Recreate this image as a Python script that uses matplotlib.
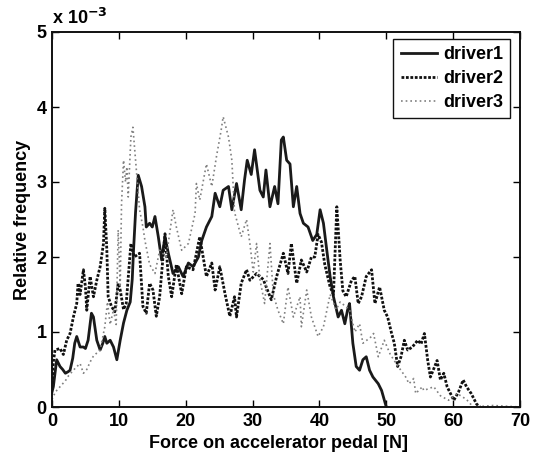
import numpy as np
import matplotlib
matplotlib.use("Agg")
import matplotlib.pyplot as plt
from matplotlib.ticker import FuncFormatter

# Relative frequency of pedal force, in units of 1e-3, sampled along the force axis [N]
d1_force = [0.0, 0.2, 0.7, 1.2, 1.6, 2.0, 2.4, 2.7, 3.1, 3.4, 3.7, 4.2, 4.7, 5.0, 5.4, 5.9,
            6.2, 6.7, 7.2, 7.6, 7.9, 8.2, 8.7, 9.2, 9.7, 10.2, 10.7, 11.2, 11.7, 12.0, 12.2,
            12.5, 12.7, 12.9, 13.4, 13.9, 14.1, 14.6, 15.0, 15.4, 15.9, 16.4, 16.9, 17.4,
            18.1, 18.9, 19.6, 20.4, 21.1, 21.9, 22.4, 23.1, 23.9, 24.4, 25.1, 25.6, 26.4,
            26.9, 27.6, 28.3, 28.8, 29.2, 29.8, 30.3, 31.1, 31.6, 32.0, 32.6, 33.3, 33.8,
            34.3, 34.6, 35.1, 35.6, 36.1, 36.6, 37.1, 37.6, 38.3, 39.0, 39.6, 40.1, 40.6,
            41.1, 41.6, 42.1, 42.8, 43.3, 43.8, 44.2, 44.5, 45.0, 45.5, 46.0, 46.5, 47.0,
            47.5, 48.0, 48.8, 49.3, 50.0]
d1_freq = [0.20, 0.27, 0.63, 0.54, 0.50, 0.45, 0.47, 0.49, 0.65, 0.85, 0.94, 0.80, 0.80, 0.78,
           0.89, 1.25, 1.20, 0.89, 0.76, 0.85, 0.94, 0.85, 0.89, 0.80, 0.63, 0.89, 1.12, 1.29,
           1.40, 1.70, 2.10, 2.60, 2.85, 3.09, 2.94, 2.67, 2.40, 2.45, 2.40, 2.54, 2.27, 1.96,
           2.27, 2.05, 1.78, 1.87, 1.74, 1.92, 1.87, 2.00, 2.22, 2.40, 2.54, 2.85, 2.67, 2.89,
           2.94, 2.63, 2.98, 2.63, 3.03, 3.29, 3.10, 3.43, 2.89, 2.80, 3.16, 2.67, 2.94, 2.71,
           3.56, 3.60, 3.29, 3.24, 2.67, 2.94, 2.58, 2.45, 2.40, 2.22, 2.30, 2.63, 2.45, 2.09,
           1.74, 1.47, 1.20, 1.29, 1.11, 1.29, 1.38, 0.85, 0.54, 0.49, 0.63, 0.67, 0.49, 0.40,
           0.31, 0.22, 0.00]

d2_force = [0.0, 0.2, 0.45, 1.2, 1.7, 2.2, 2.7, 3.2, 3.7, 3.9, 4.2, 4.7, 5.0, 5.2, 5.7, 6.2,
            6.7, 7.2, 7.7, 7.9, 8.2, 8.4, 8.9, 9.4, 9.9, 10.2, 10.7, 11.1, 11.8, 12.3, 13.1,
            13.6, 14.1, 14.6, 15.1, 15.6, 16.1, 16.9, 17.4, 17.9, 18.6, 19.4, 20.1, 21.1,
            22.1, 23.1, 23.9, 24.4, 25.1, 25.9, 26.6, 27.3, 27.6, 28.3, 29.1, 29.6, 30.6,
            31.6, 32.8, 33.6, 34.6, 35.3, 35.8, 36.6, 37.3, 38.1, 38.8, 39.3, 39.8, 40.3,
            40.8, 41.6, 42.1, 42.6, 43.1, 43.5, 44.0, 44.8, 45.3, 45.8, 46.3, 47.0, 47.8,
            48.3, 49.0, 49.7, 50.2, 50.8, 51.2, 51.7, 52.2, 52.7, 53.2, 53.9, 54.7, 55.2,
            55.7, 56.2, 56.6, 57.6, 58.1, 58.6, 59.1, 59.6, 60.1, 60.8, 61.5, 62.0, 62.7,
            63.5, 64.0]
d2_freq = [0.25, 0.60, 0.76, 0.78, 0.70, 0.89, 0.98, 1.20, 1.38, 1.65, 1.50, 1.83, 1.60, 1.29,
           1.74, 1.47, 1.69, 1.87, 2.18, 2.65, 2.10, 1.47, 1.34, 1.27, 1.65, 1.56, 1.30, 1.38,
           2.18, 2.00, 2.05, 1.34, 1.25, 1.65, 1.56, 1.21, 1.47, 2.31, 1.74, 1.47, 1.90, 1.51,
           1.87, 1.83, 2.27, 1.74, 1.92, 1.56, 1.87, 1.50, 1.21, 1.47, 1.20, 1.65, 1.83, 1.69,
           1.78, 1.70, 1.43, 1.74, 2.05, 1.78, 2.18, 1.65, 1.96, 1.80, 2.00, 2.00, 2.30, 2.20,
           1.90, 1.60, 1.50, 2.67, 1.96, 1.55, 1.47, 1.69, 1.74, 1.38, 1.47, 1.74, 1.83, 1.38,
           1.60, 1.29, 1.20, 0.98, 0.85, 0.54, 0.67, 0.89, 0.76, 0.80, 0.89, 0.84, 0.98, 0.62,
           0.40, 0.62, 0.36, 0.45, 0.27, 0.18, 0.09, 0.20, 0.36, 0.27, 0.18, 0.04, 0.00]

d3_force = [0.0, 0.5, 1.0, 1.5, 2.0, 2.5, 3.0, 3.5, 4.2, 4.7, 5.2, 5.7, 6.2, 6.7, 7.2, 7.9,
            8.3, 8.7, 9.2, 9.6, 9.9, 10.2, 10.4, 10.7, 11.0, 11.2, 11.4, 11.8, 12.1, 12.5,
            13.1, 13.6, 13.9, 14.6, 15.4, 16.1, 17.1, 18.1, 18.6, 19.4, 20.4, 21.4, 21.6,
            22.1, 23.1, 23.9, 24.6, 25.3, 25.6, 26.4, 26.9, 27.3, 27.9, 28.3, 29.1, 29.6,
            30.1, 30.6, 31.1, 31.8, 32.6, 33.1, 33.8, 34.6, 35.3, 36.1, 37.1, 37.3, 38.1,
            38.8, 39.8, 40.6, 41.6, 42.5, 43.1, 44.5, 45.3, 46.0, 46.5, 47.8, 48.1, 48.8,
            49.7, 50.6, 51.7, 52.9, 53.4, 54.1, 54.4, 55.4, 55.6, 57.1, 58.1, 59.3, 60.6,
            62.0, 63.0, 66.0, 70.0]
d3_freq = [0.10, 0.20, 0.25, 0.30, 0.35, 0.42, 0.47, 0.52, 0.58, 0.45, 0.50, 0.60, 0.68, 0.72,
           0.76, 1.07, 1.40, 1.10, 1.30, 1.10, 2.36, 1.60, 2.71, 3.29, 3.00, 3.20, 2.80, 3.60,
           3.73, 3.29, 2.63, 2.40, 2.22, 1.90, 1.78, 2.09, 2.00, 2.63, 2.40, 2.09, 2.18, 2.58,
           2.98, 2.76, 3.24, 2.94, 3.34, 3.69, 3.87, 3.60, 3.29, 2.60, 2.40, 2.27, 2.50, 2.18,
           1.80, 2.18, 1.70, 1.38, 2.18, 1.50, 1.29, 1.11, 1.60, 1.20, 1.47, 1.07, 1.56, 1.20,
           0.94, 1.07, 1.50, 1.30, 1.40, 1.30, 1.00, 1.11, 0.85, 0.94, 0.98, 0.67, 0.89, 0.70,
           0.55, 0.40, 0.31, 0.38, 0.18, 0.27, 0.22, 0.27, 0.15, 0.09, 0.18, 0.10, 0.00, 0.02,
           0.00]

labels = ["driver1", "driver2", "driver3"]
x_ticks = [0, 10, 20, 30, 40, 50, 60, 70]
y_ticks = [0, 1, 2, 3, 4, 5]
scale = 1e-3

plt.rcParams["font.family"] = ["Liberation Sans", "DejaVu Sans"]
plt.rcParams["font.weight"] = "bold"
plt.rcParams["axes.labelweight"] = "bold"

fig = plt.figure(figsize=(5.37, 4.57), dpi=100)
ax = fig.add_axes([52 / 537, 50 / 457, 468 / 537, 375 / 457])

ax.plot(d1_force, np.array(d1_freq) * scale, color="#1a1a1a", lw=2.0,
        linestyle="-", label=labels[0])
ax.plot(d2_force, np.array(d2_freq) * scale, color="#111111", lw=2.0,
        linestyle=(0, (1.0, 0.6)), label=labels[1])
ax.plot(d3_force, np.array(d3_freq) * scale, color="#808080", lw=1.2,
        linestyle=(0, (1.0, 1.8)), label=labels[2])

ax.set_xlim(0, 70)
ax.set_ylim(0, 5 * scale)
ax.set_xticks(x_ticks)
ax.set_yticks([t * scale for t in y_ticks])
ax.yaxis.set_major_formatter(FuncFormatter(lambda v, p: f"{v / scale:g}"))
ax.tick_params(direction="in", length=5, width=1.0, labelsize=13,
               top=True, right=True, pad=4)
for s in ax.spines.values():
    s.set_linewidth(1.4)
    s.set_color("#111111")

ax.text(0.0, 1.012, r"x 10$^{\mathbf{-3}}$", transform=ax.transAxes, fontsize=13,
        ha="left", va="bottom")

ax.set_xlabel("Force on accelerator pedal [N]", fontsize=13, labelpad=3)
ax.xaxis.set_label_coords(0.483, -0.075)
ax.set_ylabel("Relative frequency", fontsize=13, labelpad=4)

leg = ax.legend(loc="upper right", bbox_to_anchor=(0.979, 0.981), borderaxespad=0,
                fontsize=13, handlelength=2.0, handletextpad=0.35, labelspacing=0.38,
                borderpad=0.4, fancybox=False, framealpha=1.0, edgecolor="#111111")
leg.get_frame().set_linewidth(1.0)

fig.savefig("out.png", dpi=100)
